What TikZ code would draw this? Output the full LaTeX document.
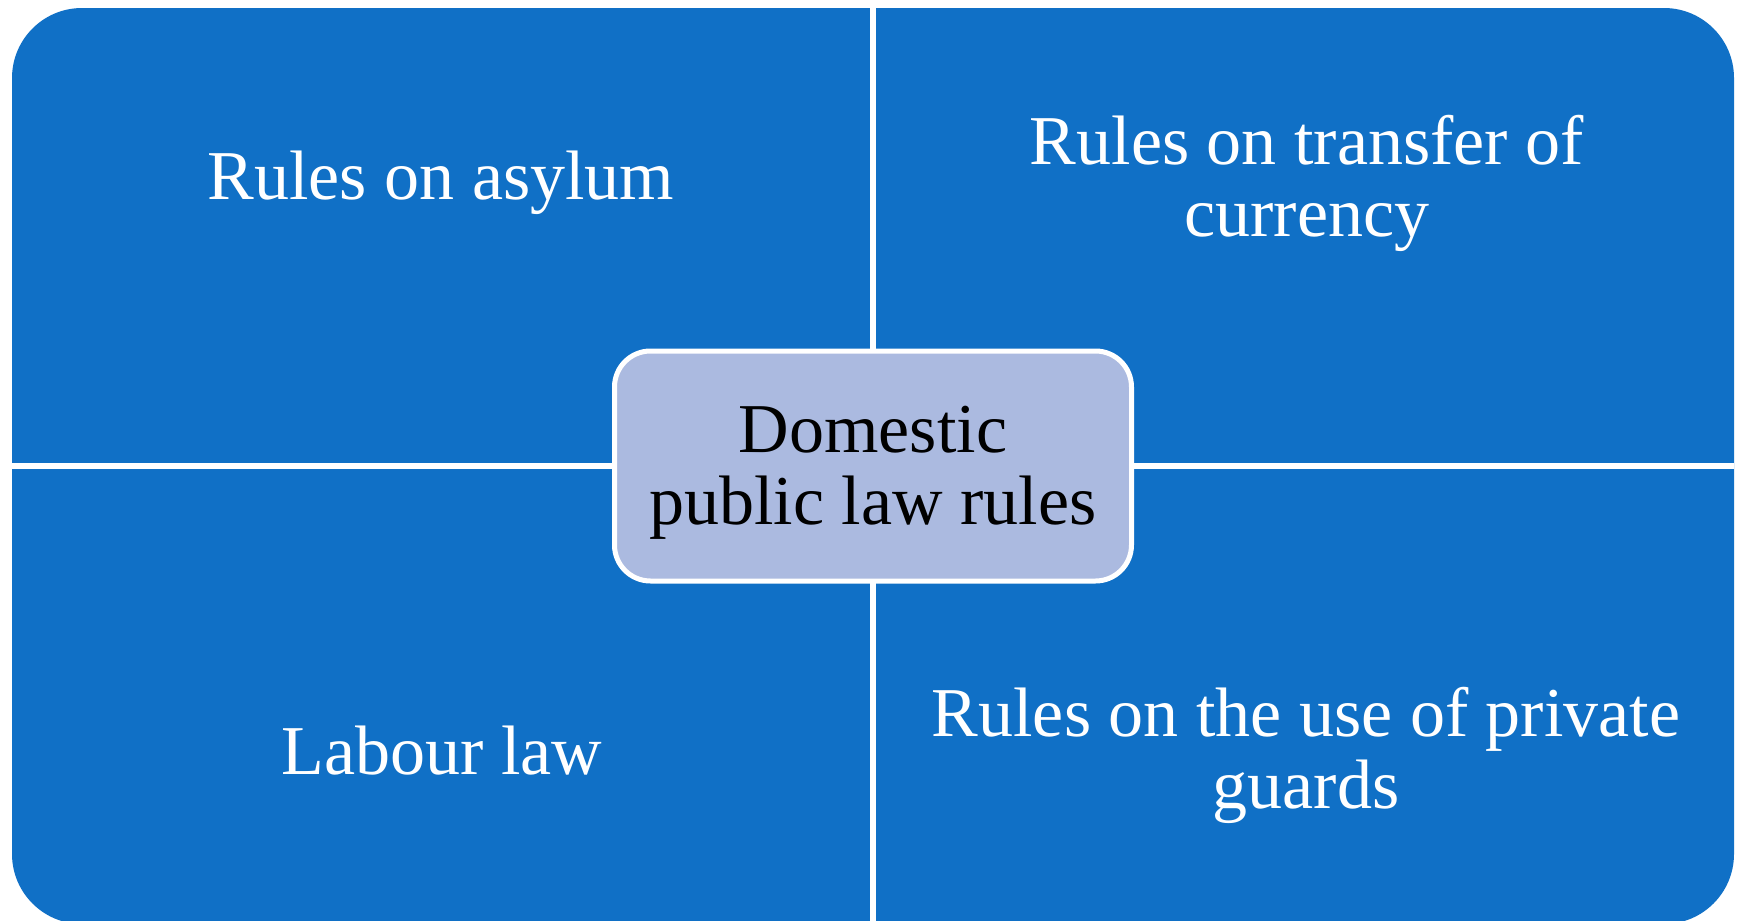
\documentclass[tikz,border=0pt]{standalone}
\usepackage{fontspec}
\setmainfont{Liberation Serif}
\usepackage{tikz}
\usetikzlibrary{calc}
\usepackage{xcolor}
\definecolor{quadblue}{HTML}{1070C6}
\definecolor{hubfill}{HTML}{ABBAE0}

\begin{document}
\begin{tikzpicture}[x=0.5pt, y=-0.5pt,
    quadtext/.style={text=white, align=center, font=\fontsize{35}{36}\selectfont},
    hubbox/.style={draw=white, line width=2.5pt, fill=hubfill, rounded corners=18pt,
      minimum width=258.5pt, minimum height=115pt, align=center,
      font=\fontsize{35}{36}\selectfont},
    divider/.style={draw=white, line width=2.8pt}]
      % frame
      \clip (0,0) rectangle (1737,921);
      \fill [white] (0,0) rectangle (1737,921);
      \coordinate (center) at (873, 466);
      \coordinate (xhalf) at (861, 0);
      \coordinate (yhalf) at (0, 458);

      % quadrants
      \fill [quadblue, rounded corners=35pt] ($(center) - (xhalf) - (yhalf)$)
      rectangle ($(center) + (xhalf) + (yhalf)$);
      \draw [divider] ($(center) - (xhalf)$) -- ($(center) + (xhalf)$);
      \draw [divider] ($(center) - (yhalf)$) -- ($(center) + (yhalf)$);

      % texts
      \node [quadtext, name=asylum] at (441, 183) {Rules on asylum};
      \node [quadtext, name=currency] at (1307, 183) {Rules on transfer of\\currency};
      \node [quadtext, name=labour] at (442, 751) {Labour law};
      \node [quadtext, name=guards] at (1306, 755) {Rules on the use of private\\guards};

      \node [hubbox, name=hub] at (center) {\rule{0pt}{30pt}Domestic\\public law rules};
    \end{tikzpicture}
\end{document}
